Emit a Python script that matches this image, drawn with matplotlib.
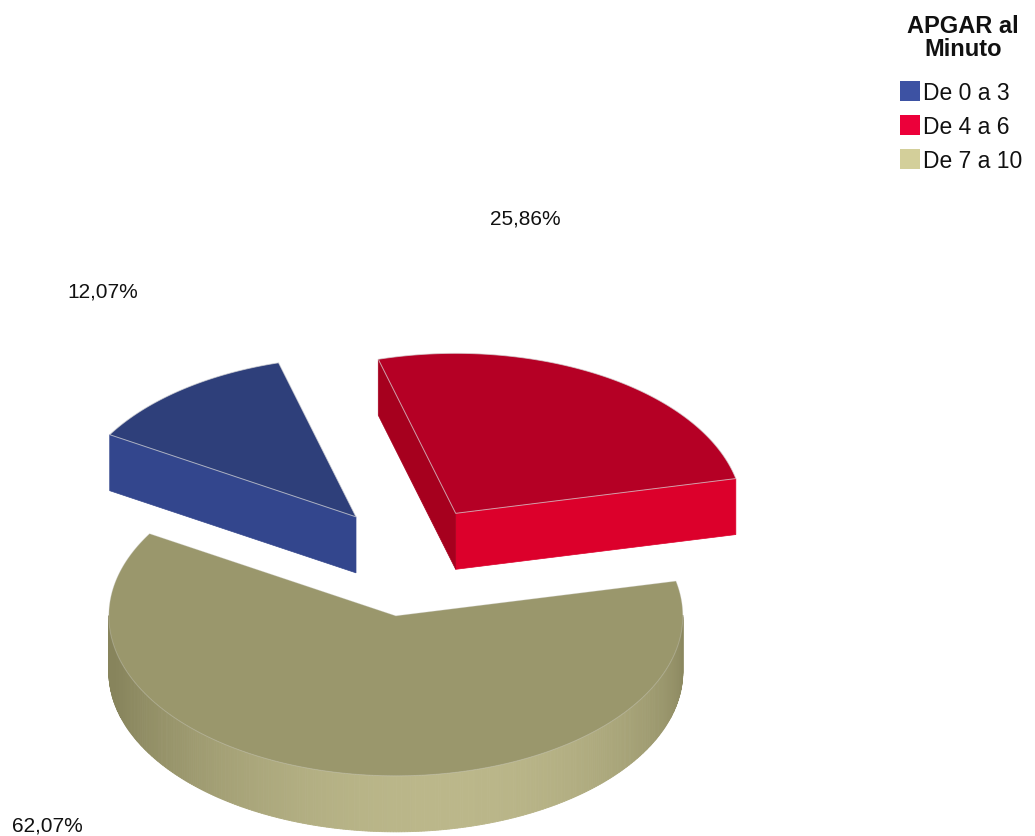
import numpy as np
import matplotlib
matplotlib.use("Agg")
import matplotlib.pyplot as plt
from matplotlib.patches import Polygon, Rectangle
from matplotlib.colors import to_rgb

plt.rcParams['font.family'] = ['Liberation Sans', 'DejaVu Sans']

# data
categories = ["De 0 a 3", "De 4 a 6", "De 7 a 10"]
percent = [12.07, 25.86, 62.07]
legend_title = "APGAR al\nMinuto"

# colours: legend / top / side dark / side light
legend_colors = ["#3d52a3", "#ec003a", "#d3cf9a"]
top_colors = ["#2e3f7a", "#b50025", "#9a976c"]
side_dark = ["#26346a", "#a4001e", "#87845c"]
side_light = ["#3a50a0", "#dc002b", "#bbb78a"]

# pie geometry (pixels)
cx, cy = 410, 562
rx, ry = 287, 160
depth = 56
explode = 0.31
start = 149.1  # degrees, slices go clockwise

fig = plt.figure(figsize=(10.35, 8.37), dpi=100)
ax = fig.add_axes([0, 0, 1, 1])
ax.set_xlim(0, 1035)
ax.set_ylim(837, 0)
ax.axis("off")


def mix(c1, c2, t):
    a, b = np.array(to_rgb(c1)), np.array(to_rgb(c2))
    return tuple(a + (b - a) * t)


def shade(i, normal_deg):
    t = max(np.cos(np.radians(normal_deg - 280)), 0) ** 1.5
    return mix(side_dark[i], side_light[i], float(t))


def pt(x0, y0, th):
    r = np.radians(th)
    return x0 + rx * np.cos(r), y0 - ry * np.sin(r)


angles = np.array(percent) / sum(percent) * 360
slices = []
a_hi = start
for i, a in enumerate(angles):
    a_lo = a_hi - a
    mid = np.radians((a_lo + a_hi) / 2)
    sx = cx + explode * rx * np.cos(mid)
    sy = cy - explode * ry * 1.12 * np.sin(mid)
    slices.append((sy, i, a_lo, a_hi, sx))
    a_hi = a_lo

# back to front
for sy, i, a0, a1, sx in sorted(slices):
    # curved outer side (front half only)
    th = np.linspace(a0, a1, 400)
    for k in range(len(th) - 1):
        m = (th[k] + th[k + 1]) / 2
        if np.sin(np.radians(m)) < 0:
            p1 = pt(sx, sy, th[k])
            p2 = pt(sx, sy, th[k + 1])
            quad = [p1, p2, (p2[0], p2[1] + depth), (p1[0], p1[1] + depth)]
            ax.add_patch(Polygon(quad, closed=True, facecolor=shade(i, m),
                                 edgecolor=shade(i, m), lw=0.6))
    # radial faces
    for edge, normal, vis in [(a0, a0 - 90, np.cos(np.radians(a0)) > 0),
                              (a1, a1 + 90, np.cos(np.radians(a1)) < 0)]:
        if vis:
            p = pt(sx, sy, edge)
            face = [(sx, sy), p, (p[0], p[1] + depth), (sx, sy + depth)]
            ax.add_patch(Polygon(face, closed=True, facecolor=shade(i, normal),
                                 edgecolor=shade(i, normal), lw=0.5))
    # top
    arc = [pt(sx, sy, t) for t in th]
    ax.add_patch(Polygon([(sx, sy)] + arc, closed=True, facecolor=top_colors[i],
                         edgecolor=(0.85, 0.85, 0.85, 0.7 if i < 2 else 0.3), lw=0.7))

# percentage labels
label_pos = [(103, 292), (525, 219), (47, 826)]
for v, (x, y) in zip(percent, label_pos):
    ax.text(x, y, f"{v:.2f}%".replace(".", ","), ha="center", va="center",
            fontsize=15, color="#111111")

# legend
ax.text(963, 38, legend_title, ha="center", va="center", fontsize=17,
        fontweight="bold", linespacing=1.05, color="#111111")
for k, (lab, col) in enumerate(zip(categories, legend_colors)):
    y = 92 + k * 34
    ax.add_patch(Rectangle((900, y - 10), 20, 20, facecolor=col, edgecolor="none"))
    ax.text(923, y + 1, lab, ha="left", va="center", fontsize=16.5, color="#111111")

fig.savefig("out.png", dpi=100)
